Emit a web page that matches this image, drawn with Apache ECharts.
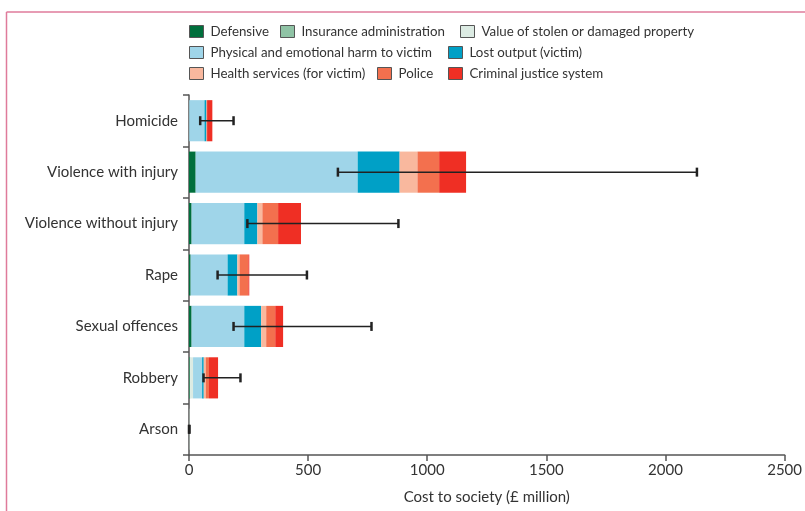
<!DOCTYPE html>
<html>
<head>
<meta charset="utf-8">
<script src="https://cdn.jsdelivr.net/npm/echarts@6/dist/echarts.min.js"></script>
<style>html,body{margin:0;padding:0;background:#fff}#c{width:805px;height:511px}</style>
</head>
<body>
<div id="c"></div>
<script>
var categories = ['Homicide','Violence with injury','Violence without injury','Rape','Sexual offences','Robbery','Arson'];
var seriesNames = ['Defensive','Insurance administration','Value of stolen or damaged property','Physical and emotional harm to victim','Lost output (victim)','Health services (for victim)','Police','Criminal justice system'];
var defensive   = [1, 28, 11, 7, 11, 3, 0];
var insurance   = [0, 0, 0, 0, 0, 2, 0.5];
var stolen      = [0, 0, 0, 0, 0, 12, 1];
var physical    = [64, 680, 221, 155, 221, 38, 0];
var lostOutput  = [8, 176, 55, 41, 71, 7, 0];
var health      = [1, 75, 21, 9, 21, 8, 0];
var police      = [2, 91, 66, 37, 38, 14, 0];
var cjs         = [22, 113, 96, 4, 33, 38, 0];
var errLow      = [47, 625, 245, 120, 187, 61, 0];
var errHigh     = [187, 2132, 879, 495, 766, 216, 2];
var xTicks      = [0, 500, 1000, 1500, 2000, 2500];

var colors = ['#006f3c','#8fc3a5','#dcebe3','#9fd5e9','#00a0c6','#f9b89e','#f3704e','#ef2f24'];
var values = [defensive, insurance, stolen, physical, lostOutput, health, police, cjs];
var FONT = 'Lato';

var series = values.map(function(v, i){
  return {type:'bar', name:seriesNames[i], stack:'total', data:v, barWidth:'80%',
    itemStyle:{color:colors[i]}, emphasis:{disabled:true}};
});
series.push({
  type:'custom', name:'error', silent:true, z:10,
  data: categories.map(function(c, i){ return [i, errLow[i], errHigh[i]]; }),
  encode:{y:0, x:[1,2]},
  renderItem:function(params, api){
    var yi = api.value(0);
    var p1 = api.coord([api.value(1), yi]);
    var p2 = api.coord([api.value(2), yi]);
    var h = 9;
    var st = {stroke:'#222', lineWidth:1.5};
    return {type:'group', children:[
      {type:'line', shape:{x1:p1[0],y1:p1[1],x2:p2[0],y2:p2[1]}, style:st},
      {type:'line', shape:{x1:p1[0],y1:p1[1]-h/2,x2:p1[0],y2:p1[1]+h/2}, style:{stroke:'#222',lineWidth:2.5}},
      {type:'line', shape:{x1:p2[0],y1:p2[1]-h/2,x2:p2[0],y2:p2[1]+h/2}, style:{stroke:'#222',lineWidth:2.5}}
    ]};
  }
});

var legendPos = [[189,25],[280,25],[460,25],[189,46],[448,46],[189,67],[377,67],[448,67]];
var legends = seriesNames.map(function(n, i){
  return {data:[n], left:legendPos[i][0], top:legendPos[i][1], itemWidth:14, itemHeight:12, itemGap:6,
    selectedMode:false, padding:0, icon:'rect',
    itemStyle:{borderColor:'#555', borderWidth:1},
    textStyle:{fontFamily:FONT, fontSize:13.3, color:'#333', padding:[0,0,0,2]}};
});

var chart = echarts.init(document.getElementById('c'));
chart.setOption({
  animation:false,
  legend: legends,
  grid:{left:189, right:17, top:95, bottom:56, containLabel:false},
  xAxis:{type:'value', min:0, max:2500, interval:500,
    name:'Cost to society (£ million)', nameLocation:'middle', nameGap:35,
    nameTextStyle:{fontFamily:FONT, fontSize:15, color:'#333'},
    axisLine:{show:true, lineStyle:{color:'#555', width:1.5}},
    axisTick:{show:true, length:6, lineStyle:{color:'#555', width:1.5}},
    axisLabel:{fontFamily:FONT, fontSize:15, color:'#333', margin:8,
      formatter:function(v){ return String(v); }},
    splitLine:{show:false}},
  yAxis:{type:'category', data:categories, inverse:true,
    axisLine:{show:true, lineStyle:{color:'#555', width:1.5}},
    axisTick:{show:true, length:6, lineStyle:{color:'#555', width:1.5}},
    axisLabel:{fontFamily:FONT, fontSize:15, color:'#333', margin:11}},
  graphic:[
    {type:'line', shape:{x1:6.5,y1:12,x2:805,y2:12}, style:{stroke:'#df7b9b', lineWidth:1.5}},
    {type:'line', shape:{x1:6.5,y1:12,x2:6.5,y2:511}, style:{stroke:'#df7b9b', lineWidth:1.5}}
  ],
  series: series
});
</script>
</body>
</html>
